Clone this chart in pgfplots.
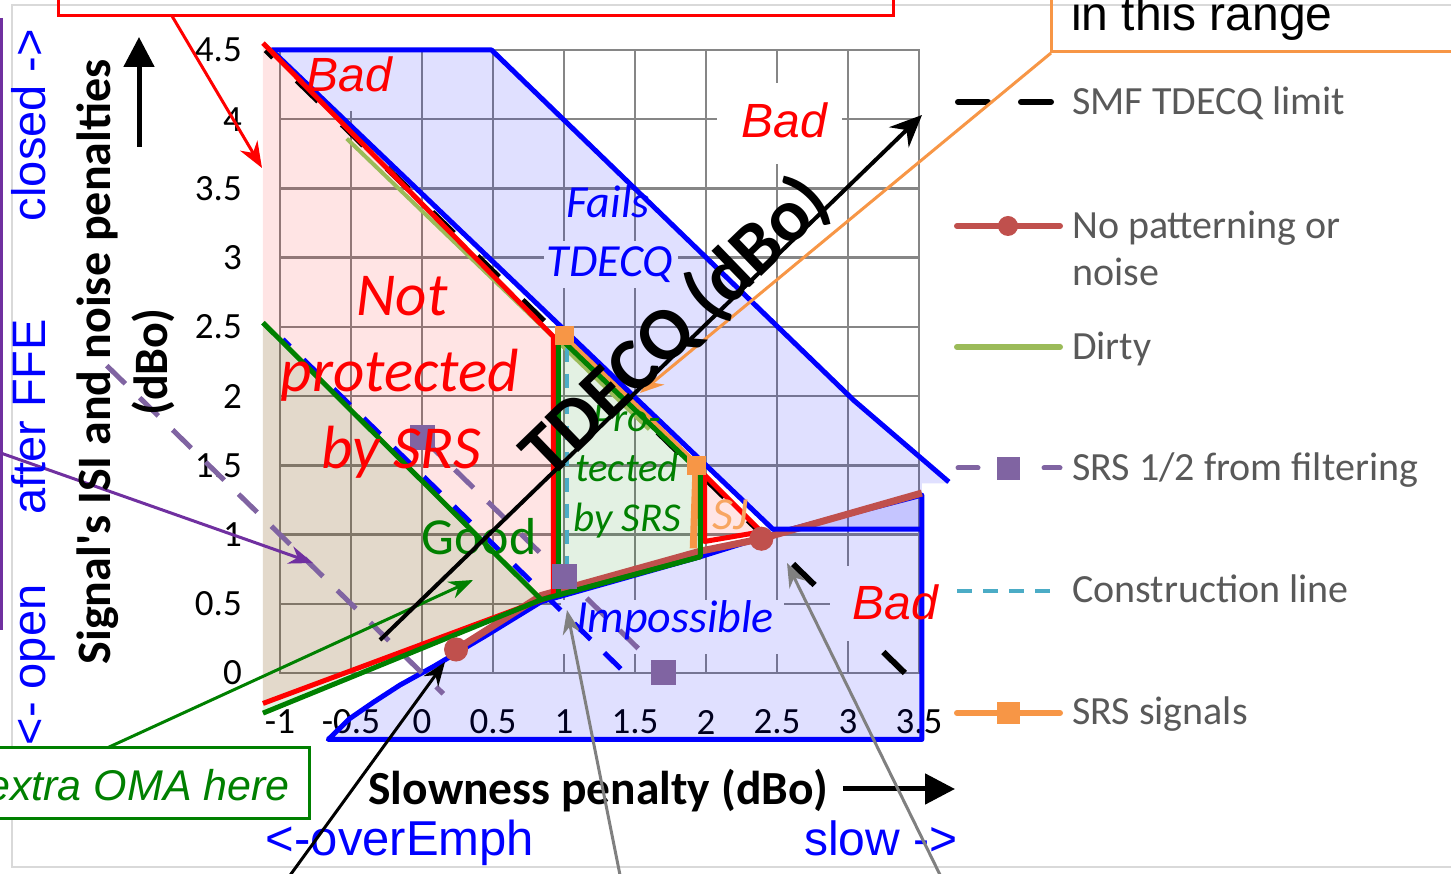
\documentclass[border=0pt]{standalone}
\usepackage{fontspec}
\setmainfont{Carlito}
\newfontfamily\arial{Liberation Sans}
\usepackage{pgfplots}
\pgfplotsset{compat=1.18}
\usetikzlibrary{arrows.meta}

\definecolor{cBlue}{HTML}{0000FF}
\definecolor{cRed}{HTML}{FF0000}
\definecolor{cGreen}{HTML}{008000}
\definecolor{cNoPat}{HTML}{C0504D}
\definecolor{cDirty}{HTML}{9BBB59}
\definecolor{cHalf}{HTML}{8064A2}
\definecolor{cConstr}{HTML}{4BACC6}
\definecolor{cSRS}{HTML}{F79646}
\definecolor{cGrid}{HTML}{868686}
\definecolor{cLegText}{HTML}{595959}
\definecolor{cPurple}{HTML}{7030A0}
\definecolor{cFrame}{HTML}{D9D9D9}
\definecolor{cArrowGray}{HTML}{808080}

\newcommand{\sz}[1]{\fontsize{#1}{#1}\selectfont}

\begin{document}
\begin{tikzpicture}
\useasboundingbox (0,0) rectangle (1451pt,873pt);
\clip (0,0) rectangle (1451pt,873pt);

\begin{axis}[
  at={(280pt,200pt)}, anchor=south west,
  scale only axis, width=639pt, height=623pt,
  xmin=-1, xmax=3.5, ymin=0, ymax=4.5,
  xtick={-1,-0.5,0,0.5,1,1.5,2,2.5,3,3.5},
  ytick={0,0.5,1,1.5,2,2.5,3,3.5,4,4.5},
  xticklabels={-1,-0.5,0,0.5,1,1.5,2,2.5,3,3.5},
  yticklabels={0,0.5,1,1.5,2,2.5,3,3.5,4,4.5},
  grid=major,
  major grid style={cGrid, line width=2.5pt},
  axis line style={cGrid, line width=2.5pt},
  major tick length=0pt,
  tick label style={font=\sz{37}, text=black},
  xticklabel style={anchor=center, yshift=-49pt},
  yticklabel style={anchor=east, inner sep=0pt, xshift=-38pt},
  clip=false,
]
% label boxes that hide the grid (under the fills)
\fill[white] (axis cs:-0.95,4.06) rectangle (axis cs:-0.08,4.49);
\fill[white] (axis cs:2.08,3.68) rectangle (axis cs:2.96,4.26);
\fill[white] (axis cs:0.98,0.14) rectangle (axis cs:2.55,0.53);
\fill[white] (axis cs:0.86,2.78) rectangle (axis cs:1.80,3.12);

% Fails TDECQ region
\addplot[draw=none, fill=cBlue, fill opacity=0.12] coordinates {
  (-1.06,4.5) (0.49,4.5) (3.04,1.97) (3.71,1.38) (3.71,1.37) (3.52,1.37)
  (3.52,1.04) (2.47,1.04)
} -- cycle;
% Impossible region
\addplot[cBlue, line width=5pt, line join=round, fill=cBlue, fill opacity=0.12] coordinates {
  (-0.66,-0.48) (-0.63,-0.45) (-0.51,-0.33) (-0.34,-0.21) (-0.155,-0.087)
  (0.08,0.046) (0.45,0.27) (0.84,0.515) (1.96,0.84) (2.49,1.01) (3.52,1.285)
  (3.52,-0.48)
} -- cycle;
% Not protected by SRS
\addplot[draw=none, fill=cRed, fill opacity=0.105] coordinates {
  (-1.12,4.55) (0.925,2.43) (0.925,0.56) (-1.12,-0.22)
} -- cycle;
% Good
\addplot[draw=none, fill=cGreen, fill opacity=0.11] coordinates {
  (-1.12,2.53) (0.84,0.53) (-1.12,-0.29)
} -- cycle;
% Protected by SRS
\addplot[draw=none, fill=cGreen, fill opacity=0.11] coordinates {
  (0.96,2.43) (1.96,1.45) (1.96,0.84) (0.96,0.563)
} -- cycle;
% SJ
\addplot[draw=none, fill=cRed, fill opacity=0.1] coordinates {
  (1.99,1.43) (2.39,1.02) (1.99,0.95)
} -- cycle;

% SMF TDECQ limit
\addplot[black, line width=6pt, dash pattern=on 30pt off 33pt] coordinates {(3.4,0) (-1.1,4.5)};
% lower TDECQ limit (blue dashed)
\addplot[cBlue, line width=5pt, dash pattern=on 23pt off 19pt] coordinates {(1.40,0.03) (-0.98,2.41)};
% Dirty
\addplot[cDirty, line width=4pt] coordinates {(-0.53,3.86) (1.6,1.76)};
% No patterning or noise
\addplot[cNoPat, line width=7pt, mark=*, mark size=8.5pt, mark indices={1,4}] coordinates {
  (0.24,0.17) (0.84,0.56) (1.96,0.88) (2.39,0.97) (3.52,1.30)};
% SRS 1/2 from filtering
\addplot[cHalf, line width=5pt, dash pattern=on 26pt off 20pt] coordinates {(-2.22,2.22) (0.15,-0.15)};
\addplot[cHalf, line width=5pt, dash pattern=on 26pt off 20pt, mark=square*, mark size=10pt,
  mark options={solid}] coordinates {(0,1.7) (1.0,0.7) (1.7,0)};
% Construction line
\addplot[cConstr, line width=4pt, dash pattern=on 14pt off 12pt] coordinates {(1.02,2.35) (1.02,0.72)};
% SRS signals
\addplot[cSRS, line width=7pt, mark=square*, mark size=6pt, mark indices={1,2}] coordinates {
  (1.0,2.44) (1.93,1.5) (1.91,0.9)};
% blue boundaries
\addplot[cBlue, line width=5pt, line join=round] coordinates {(-1.06,4.5) (0.49,4.5) (3.04,1.97) (3.71,1.38)};
\addplot[cBlue, line width=5pt, line join=round] coordinates {(-1.06,4.5) (2.47,1.04) (3.52,1.04)};
% red boundaries
\addplot[cRed, line width=5pt, line join=round] coordinates {(-1.12,4.55) (0.925,2.43) (0.925,0.56) (-1.12,-0.22)};
\addplot[cRed, line width=5pt, line join=round] coordinates {(1.99,1.43) (2.39,1.02) (1.99,0.95)} -- cycle;
% green boundaries
\addplot[cGreen, line width=5pt] coordinates {(-1.12,2.53) (0.84,0.53)};
\addplot[cGreen, line width=5pt, line join=round] coordinates {(-1.12,-0.29) (0.84,0.53) (1.96,0.84)};
\addplot[cGreen, line width=5pt, line join=round] coordinates {
  (0.96,2.43) (1.96,1.45) (1.96,0.84) (0.96,0.563)} -- cycle;
\end{axis}

% ---- annotations, in pixel units from the top-left corner ----
\begin{scope}[x=1pt, y=-1pt, yshift=873pt]
\draw[cFrame, line width=2.5pt] (1460,5) -- (12,5) -- (12,867) -- (1460,867);

% legend
\draw[black, line width=6pt, line cap=round, dash pattern=on 30pt off 33pt] (958,102) -- (1052,102);
\draw[cNoPat, line width=6pt, line cap=round] (957,226) -- (1060,226);
\fill[cNoPat] (1008,226) circle (10pt);
\draw[cDirty, line width=6pt, line cap=round] (957,347) -- (1060,347);
\draw[cHalf, line width=5pt, line cap=round] (958,468) -- (978,468) (1044,468) -- (1060,468);
\fill[cHalf] (997,457) rectangle (1020,480);
\draw[cConstr, line width=4pt, dash pattern=on 15pt off 11pt] (957,591) -- (1055,591);
\draw[cSRS, line width=6pt, line cap=round] (957,713) -- (1060,713);
\fill[cSRS] (997,702) rectangle (1020,724);
\begin{scope}[every node/.style={anchor=base west, inner sep=0pt, text=cLegText, font=\sz{40}}]
\node at (1072,115) {SMF TDECQ limit};
\node at (1072,239) {No patterning or};
\node at (1072,286) {noise};
\node at (1072,360) {Dirty};
\node at (1072,481) {SRS 1/2 from filtering};
\node at (1072,603) {Construction line};
\node at (1072,725) {SRS signals};
\end{scope}

% callout boxes
\draw[cRed, line width=3pt] (58,-20) rectangle (893,16);
\draw[cRed, line width=3pt, -{Stealth[length=26pt, width=20pt]}] (172,16) -- (262,168);
\draw[cSRS, line width=3pt] (1051,-20) -- (1051,52) -- (1470,52);
\node[anchor=base west, inner sep=0pt, font=\arial\sz{48}] at (1071,31) {in this range};
\draw[cSRS, line width=3pt, -{Stealth[length=24pt, width=18pt]}] (1051,53) -- (640,393);

% left side
\draw[cPurple, line width=3pt] (1.5,18) -- (1.5,630);
\draw[cPurple, line width=3pt, -{Stealth[length=24pt, width=18pt]}] (-5,451) -- (313,563);
\begin{scope}[every node/.style={rotate=90, anchor=base, inner sep=0pt, text=cBlue, font=\arial\sz{47}}]
\node at (45,125) {closed ->};
\node at (45,417) {after FFE};
\node at (45,665) {<- open};
\end{scope}
\node[rotate=90, anchor=base, inner sep=0pt, font=\bfseries\sz{48}] at (110,362) {Signal\textquotesingle s ISI and noise penalties};
\node[rotate=90, anchor=base, inner sep=0pt, font=\bfseries\sz{48}] at (167,362) {(dBo)};
\draw[black, line width=5pt, -{Triangle[length=30pt, width=30pt]}] (139,147) -- (139,37);

% bottom
\node[anchor=base, inner sep=0pt, font=\bfseries\sz{47.5}] at (598,804) {Slowness penalty (dBo)};
\draw[black, line width=5pt, -{Triangle[length=30pt, width=30pt]}] (843,789) -- (955,789);
\node[anchor=base, inner sep=0pt, font=\arial\sz{49}, text=cBlue] at (400,855) {<-overEmph};
\node[anchor=base, inner sep=0pt, font=\arial\sz{48}, text=cBlue] at (881,855) {slow ->};
\draw[cGreen, line width=3pt, -{Stealth[length=24pt, width=18pt]}] (107,748) -- (473,580);
\draw[cGreen, line width=3pt, fill=white] (-20,748) rectangle (309,818);
\node[anchor=base east, inner sep=0pt, font=\arial\itshape\sz{43}, text=cGreen] at (290,800) {extra OMA here};
\draw[black, line width=3pt, -{Stealth[length=24pt, width=18pt]}] (283,885) -- (445,662);
\draw[cArrowGray, line width=3pt, -{Stealth[length=24pt, width=18pt]}] (622,885) -- (567,610);
\draw[cArrowGray, line width=3pt, -{Stealth[length=24pt, width=18pt]}] (945,885) -- (787,563);

% region labels
\fill[cBlue!12!white] (830,566) rectangle (916,641);
\begin{scope}[every node/.style={anchor=base, inner sep=0pt}]
\node[font=\arial\itshape\sz{48}, text=cRed] at (349,92) {Bad};
\node[font=\arial\itshape\sz{48}, text=cRed] at (784,138) {Bad};
\node[font=\arial\itshape\sz{48}, text=cRed] at (895,620) {Bad};
\node[font=\itshape\sz{61}, text=cRed] at (402,316) {Not};
\node[font=\itshape\sz{61}, text=cRed] at (400,392) {protected};
\node[font=\itshape\sz{61}, text=cRed] at (401,469) {by SRS};
\node[font=\itshape\sz{46}, text=cBlue] at (608,218) {Fails};
\node[font=\itshape\sz{46}, text=cBlue] at (610,277) {TDECQ};
\node[font=\itshape\sz{41}, text=cGreen] at (627,432) {Pro-};
\node[font=\itshape\sz{41}, text=cGreen] at (627,482) {tected};
\node[font=\itshape\sz{41}, text=cGreen] at (627,532) {by SRS};
\node[font=\sz{52}, text=cGreen] at (479,555) {Good};
\node[font=\itshape\sz{46}, text=cBlue] at (675,633) {Impossible};
\node[font=\itshape\sz{46}, text=cSRS!85!white] at (730,530) {SJ};
\end{scope}

% TDECQ axis arrow
\draw[black, line width=4pt, -{Stealth[length=32pt, width=28pt]}] (380,640) -- (922,115);
\node[rotate=44, inner sep=0pt, font=\bfseries\sz{75}] at (676,328) {TDECQ (dBo)};
\end{scope}
\end{tikzpicture}
\end{document}
